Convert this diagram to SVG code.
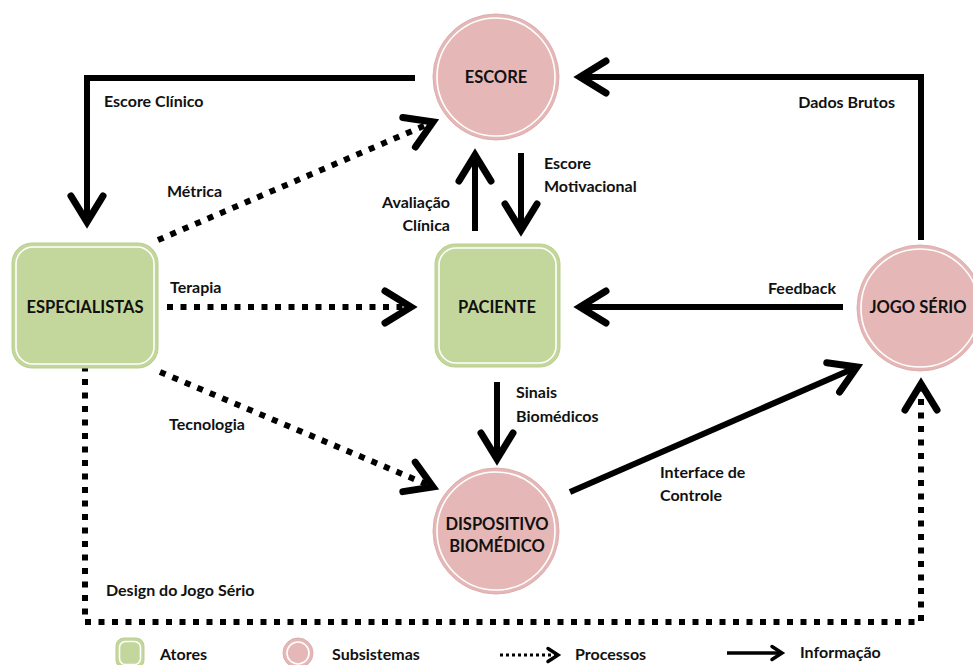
<svg xmlns="http://www.w3.org/2000/svg" width="973" height="665" viewBox="0 0 973 665">
<style>
text { font-family: Lato, "Open Sans", "Liberation Sans", sans-serif; font-weight: bold; fill: #111; }
.lbl { font-size: 16px; }
.node { font-size: 16.5px; text-anchor: middle; }
.act { fill: #c3d69b; stroke: #b9cf8e; stroke-width: 1; }
.actin { fill: none; stroke: #fff; stroke-width: 1.6; }
.sub { fill: #e5b8b7; stroke: #dcaeae; stroke-width: 1; }
.subin { fill: none; stroke: #fff; stroke-width: 1.6; }
.info { fill: none; stroke: #000; stroke-width: 6; }
.proc { fill: none; stroke: #000; stroke-width: 6; stroke-dasharray: 6 7.5; }
</style>
<defs>
<marker id="ah" markerUnits="userSpaceOnUse" viewBox="-34 -22 40 44" markerWidth="40" markerHeight="44" refX="0" refY="0" orient="auto" overflow="visible">
<path d="M-26,-16 L0,0 L-26,16" fill="none" stroke="#000" stroke-width="7" stroke-linecap="round" stroke-linejoin="miter" stroke-dasharray="none"/>
</marker>
<marker id="ahs" markerUnits="userSpaceOnUse" viewBox="-16 -10 20 20" markerWidth="20" markerHeight="20" refX="0" refY="0" orient="auto" overflow="visible">
<path d="M-10,-6.5 L0,0 L-10,6.5" fill="none" stroke="#000" stroke-width="3.5" stroke-linecap="round" stroke-linejoin="miter" stroke-dasharray="none"/>
</marker>
</defs>

<g id="connectors">
<path id="c-escore-clinico" class="info" d="M415,78 H87 V222" marker-end="url(#ah)"/>
<path id="c-dados-brutos" class="info" d="M921,240 V77 H580" marker-end="url(#ah)"/>
<path id="c-avaliacao" class="info" d="M475,231 V155" marker-end="url(#ah)"/>
<path id="c-motivacional" class="info" d="M521,153 V230" marker-end="url(#ah)"/>
<path id="c-feedback" class="info" d="M843,307 H580" marker-end="url(#ah)"/>
<path id="c-sinais" class="info" d="M497,382 V459" marker-end="url(#ah)"/>
<path id="c-interface" class="info" d="M570,492 L857,367" marker-end="url(#ah)"/>
<path id="c-metrica" class="proc" d="M158,240 L433,122" marker-end="url(#ah)"/>
<path id="c-terapia" class="proc" d="M167,307 H411" marker-end="url(#ah)"/>
<path id="c-tecnologia" class="proc" d="M160,372 L433,487" marker-end="url(#ah)"/>
<path id="c-design" class="proc" d="M85,352 V622 H921 V384" marker-end="url(#ah)"/>
<text class="lbl" x="104" y="107">Escore Clínico</text>
<text class="lbl" x="895" y="108" text-anchor="end">Dados Brutos</text>
<text class="lbl" x="167" y="197">Métrica</text>
<text class="lbl" x="450" y="208" text-anchor="end">Avaliação</text>
<text class="lbl" x="450" y="231" text-anchor="end">Clínica</text>
<text class="lbl" x="544" y="169">Escore</text>
<text class="lbl" x="544" y="192">Motivacional</text>
<text class="lbl" x="170" y="293">Terapia</text>
<text class="lbl" x="836" y="294" text-anchor="end">Feedback</text>
<text class="lbl" x="516" y="398">Sinais</text>
<text class="lbl" x="516" y="422">Biomédicos</text>
<text class="lbl" x="169" y="430">Tecnologia</text>
<text class="lbl" x="660" y="478">Interface de</text>
<text class="lbl" x="660" y="501">Controle</text>
<text class="lbl" x="106" y="596">Design do Jogo Sério</text>
</g>

<g id="escore">
<circle class="sub" cx="496" cy="77" r="63"/>
<circle class="subin" cx="496" cy="77" r="59"/>
<text class="node" x="496" y="83">ESCORE</text>
</g>
<g id="especialistas">
<rect class="act" x="12" y="243" width="146" height="125" rx="20"/>
<rect class="actin" x="16" y="247" width="138" height="117" rx="17"/>
<text class="node" x="85" y="313">ESPECIALISTAS</text>
</g>
<g id="paciente">
<rect class="act" x="435" y="244" width="125" height="123" rx="20"/>
<rect class="actin" x="439" y="248" width="117" height="115" rx="17"/>
<text class="node" x="497" y="313">PACIENTE</text>
</g>
<g id="jogo-serio">
<circle class="sub" cx="920" cy="308" r="63"/>
<circle class="subin" cx="920" cy="308" r="59"/>
<text class="node" x="918" y="313">JOGO SÉRIO</text>
</g>
<g id="dispositivo">
<circle class="sub" cx="496" cy="531" r="63"/>
<circle class="subin" cx="496" cy="531" r="59"/>
<text class="node" x="497" y="530">DISPOSITIVO</text>
<text class="node" x="497" y="552">BIOMÉDICO</text>
</g>

<g id="legend">
<rect class="act" x="116" y="638" width="28" height="30" rx="8"/>
<rect class="actin" x="119.5" y="641.5" width="21" height="23" rx="6"/>
<text class="lbl" x="160" y="660">Atores</text>
<circle class="sub" cx="298" cy="653" r="15"/>
<circle class="subin" cx="298" cy="653" r="11"/>
<text class="lbl" x="332" y="660">Subsistemas</text>
<path d="M500,655 H558" fill="none" stroke="#000" stroke-width="3" stroke-dasharray="3 3" marker-end="url(#ahs)"/>
<text class="lbl" x="575" y="660">Processos</text>
<path d="M727,653 H782" fill="none" stroke="#000" stroke-width="3.5" marker-end="url(#ahs)"/>
<text class="lbl" x="800" y="658">Informação</text>
</g>
</svg>
